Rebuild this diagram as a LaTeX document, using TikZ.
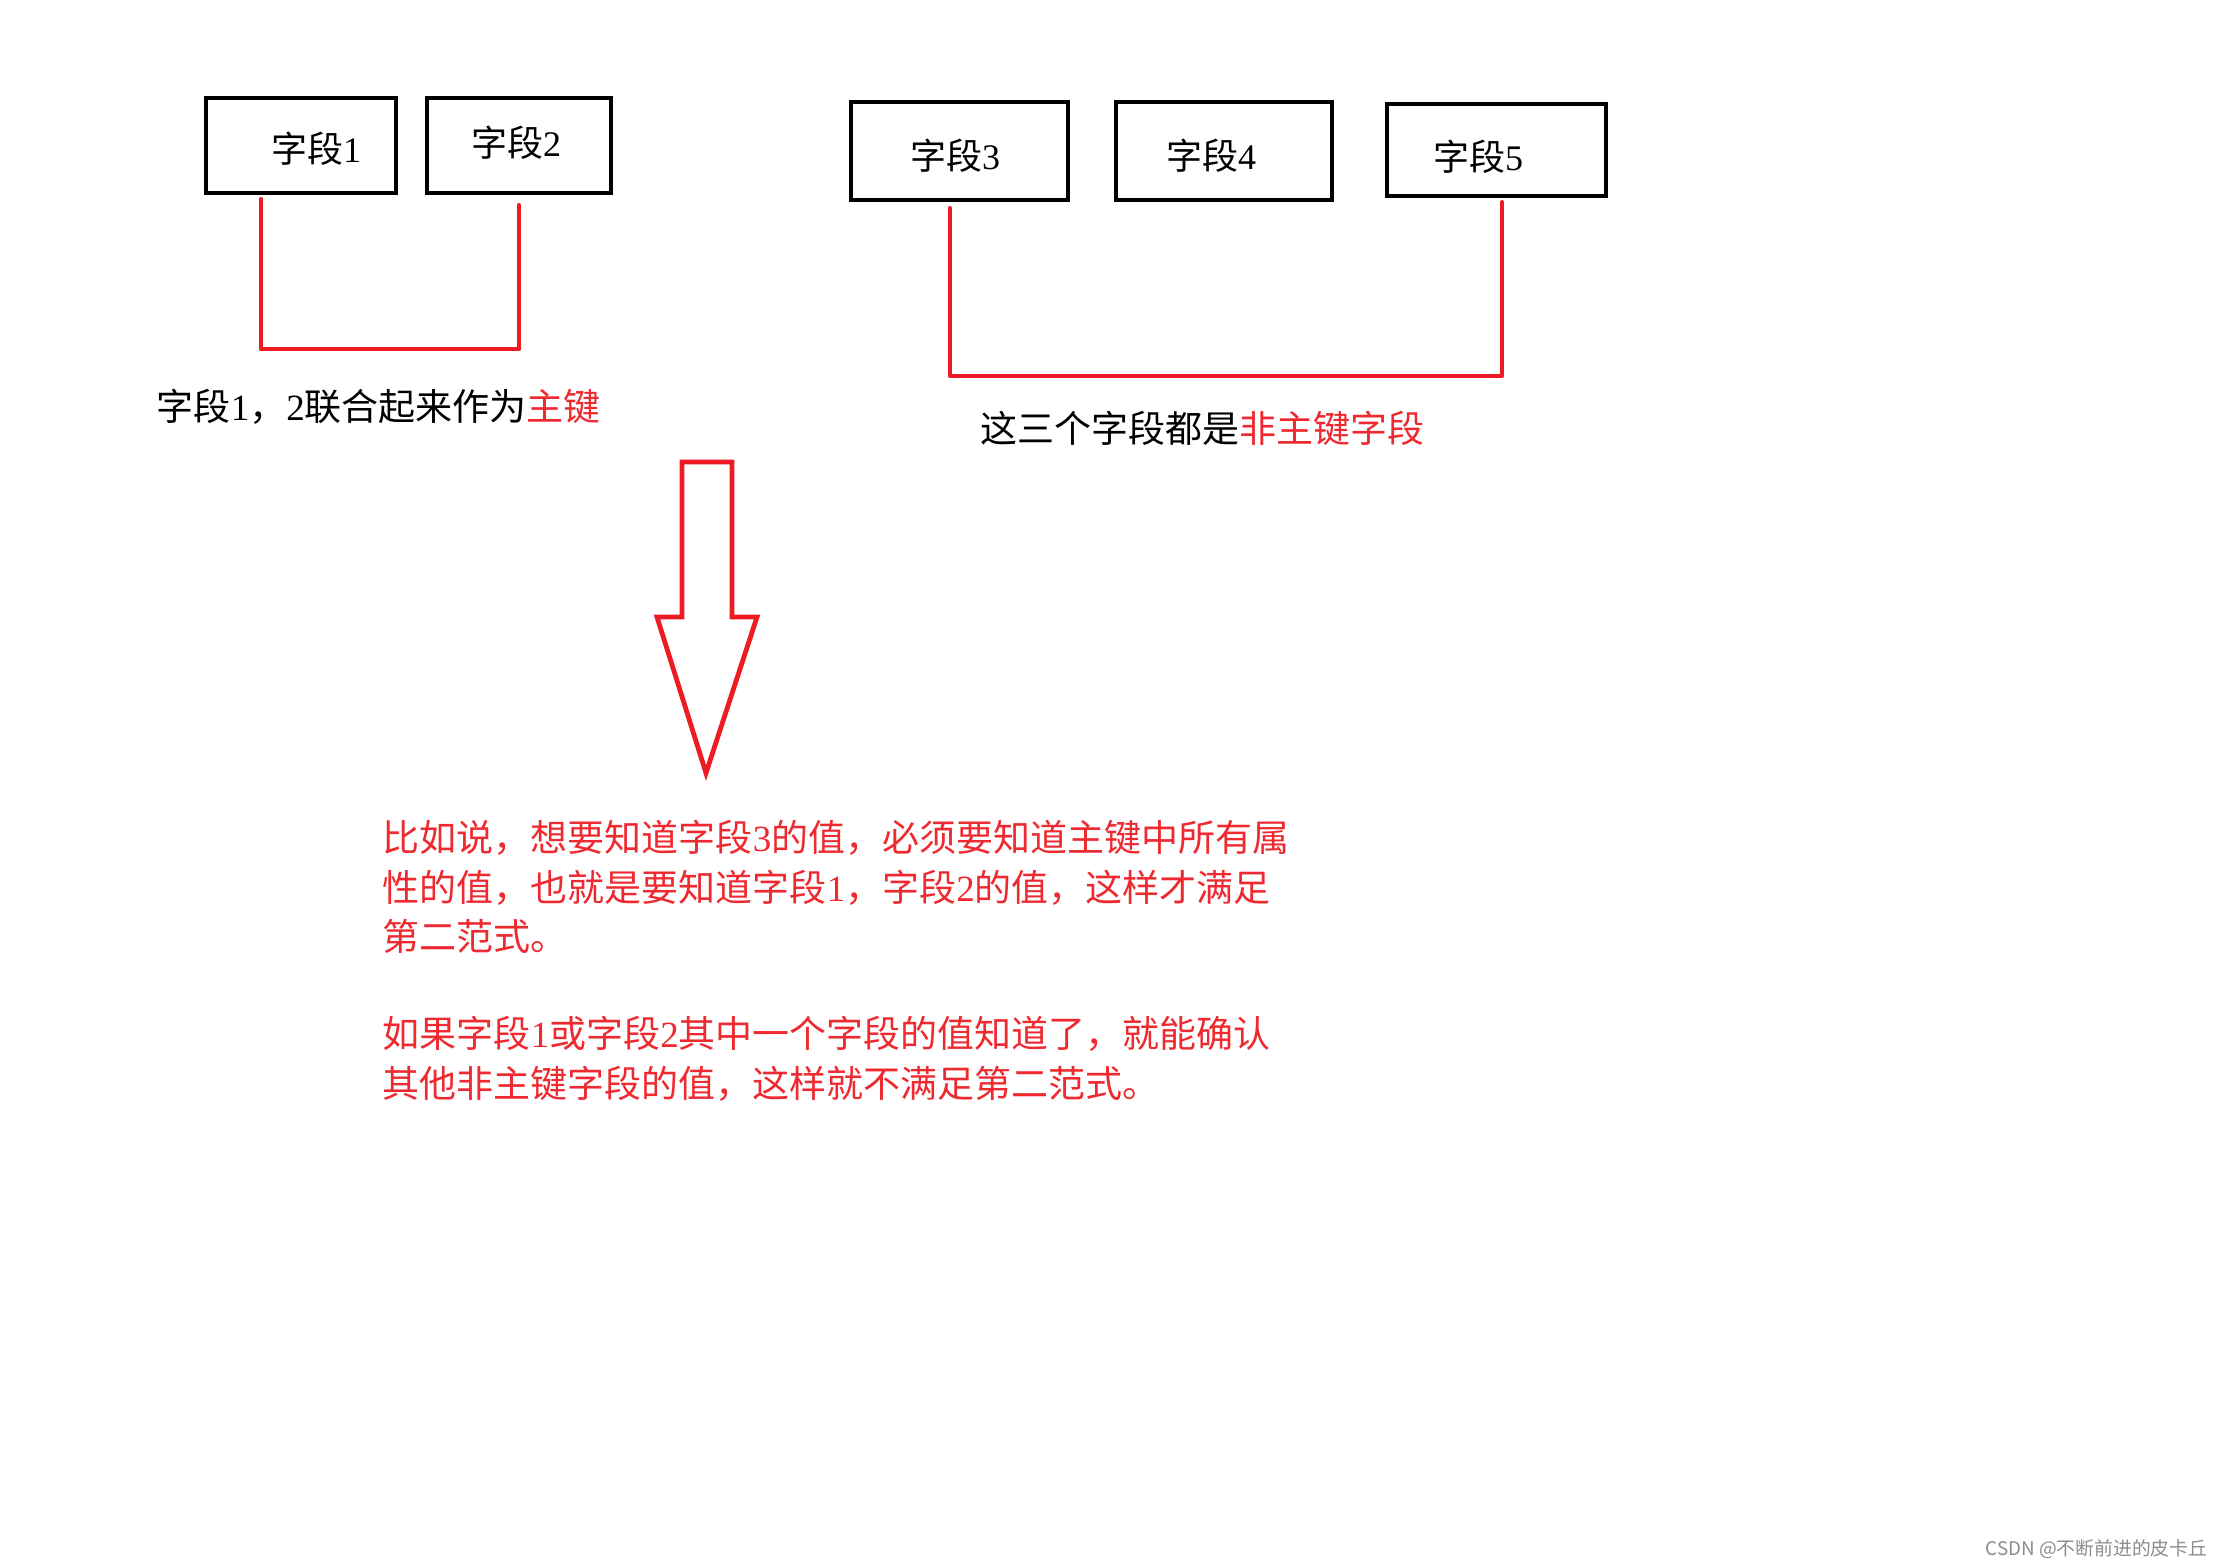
\documentclass[tikz,border=0pt]{standalone}
\usepackage{fontspec}
\setmainfont{Noto Sans CJK SC}
\newfontfamily\latfont{Liberation Serif}
\newcommand{\lat}[1]{{\latfont #1}}
\newfontfamily\wmfont{Noto Sans CJK SC}
\definecolor{pred}{HTML}{ED1C24}
\definecolor{tred}{HTML}{EE2A30}
\begin{document}
\begin{tikzpicture}[x=0.25pt,y=-0.25pt,
  fbox/.style={draw=black,line width=1.15pt,rectangle,inner sep=0pt},
  ftext/.style={inner sep=0pt,font=\fontsize{9}{10}\selectfont},
  redline/.style={draw=pred,line width=1.2pt,line cap=round,line join=round},
  lbl/.style={inner sep=0pt,anchor=west,font=\fontsize{9.25}{11}\selectfont},
  para/.style={inner sep=0pt,anchor=west,text=tred,font=\fontsize{9.25}{11}\selectfont}]
\useasboundingbox (0,0) rectangle (2224,1567);
% boxes
\node[fbox,minimum width=47.5pt,minimum height=23.75pt] (b1) at (301,145.5) {};
\node[fbox,minimum width=46pt,minimum height=23.75pt] (b2) at (519,145.5) {};
\node[fbox,minimum width=54.25pt,minimum height=24.5pt] (b3) at (959.5,151) {};
\node[fbox,minimum width=54pt,minimum height=24.5pt] (b4) at (1224,151) {};
\node[fbox,minimum width=54.75pt,minimum height=23pt] (b5) at (1496.5,150) {};
\node[ftext] (t1) at (316,149) {字段\lat{1}};
\node[ftext] (t2) at (516,143) {字段\lat{2}};
\node[ftext] (t3) at (955,156) {字段\lat{3}};
\node[ftext] (t4) at (1211,156) {字段\lat{4}};
\node[ftext] (t5) at (1478,157) {字段\lat{5}};
% brackets
\coordinate (c1) at (261,349);
\draw[redline] (c1 |- b1.south) ++(0,4) -- (c1) -- (c1 -| b2.south) -- ([yshift=-2.5pt]b2.south);
\coordinate (c2) at (950,376);
\coordinate (c3) at (1502,376);
\draw[redline] ([yshift=-1.5pt]b3.south -| c2) -- (c2) -- (c3) -- ([yshift=-1pt]b5.south -| c3);
% labels
\node[lbl] (l1) at (156,407) {字段\lat{1}，\lat{2}联合起来作为\textcolor{tred}{主键}};
\node[lbl] (l2) at (980,428) {这三个字段都是\textcolor{tred}{非主键字段}};
% big arrow
\draw[redline,line cap=butt,line join=miter] (682,462) -- (732,462) -- (732,617) -- (757,617) -- (706,773) -- (657,617) -- (682,617) -- cycle;
% paragraph
\node[para] (p1) at (382,838) {比如说，想要知道字段\lat{3}的值，必须要知道主键中所有属};
\node[para] (p2) at (382,888) {性的值，也就是要知道字段\lat{1}，字段\lat{2}的值，这样才满足};
\node[para] (p3) at (382,936) {第二范式。};
\node[para] (p4) at (382,1034) {如果字段\lat{1}或字段\lat{2}其中一个字段的值知道了，就能确认};
\node[para] (p5) at (382,1084) {其他非主键字段的值，这样就不满足第二范式。};
% watermark
\node[inner sep=0pt,anchor=east,text=black!45,font=\wmfont\fontsize{4.7}{6}\selectfont] (wm) at (2208,1549) {CSDN @不断前进的皮卡丘};
\end{tikzpicture}
\end{document}
